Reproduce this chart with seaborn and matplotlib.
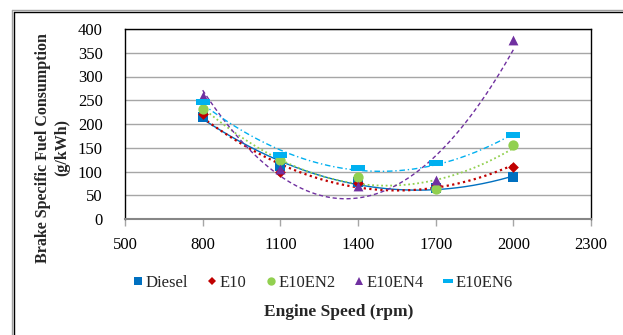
import numpy as np
import pandas as pd
import seaborn as sns
import matplotlib
matplotlib.use("Agg")
import matplotlib.pyplot as plt
from matplotlib.path import Path
from matplotlib.lines import Line2D

speeds = [800, 1100, 1400, 1700, 2000]
diesel = [215, 111, 78, 65, 88]
e10 = [220, 99, 75, 71, 110]
e10en2 = [232, 124, 89, 63, 156]
e10en4 = [259, 106, 70, 83, 377]
e10en6 = [246, 135, 108, 117, 177]
series_names = ["Diesel", "E10", "E10EN2", "E10EN4", "E10EN6"]
x_ticks = [500, 800, 1100, 1400, 1700, 2000, 2300]
y_ticks = [0, 50, 100, 150, 200, 250, 300, 350, 400]

values = {"Diesel": diesel, "E10": e10, "E10EN2": e10en2,
          "E10EN4": e10en4, "E10EN6": e10en6}
df = pd.DataFrame([(s, n, v) for n in series_names
                   for s, v in zip(speeds, values[n])],
                  columns=["speed", "series", "bsfc"])

sns.set_theme(style="white")
plt.rcParams["font.family"] = ["Liberation Serif", "DejaVu Serif"]

colors = {"Diesel": "#0070C0", "E10": "#C00000", "E10EN2": "#92D050",
          "E10EN4": "#7030A0", "E10EN6": "#00B0F0"}
rect = Path([(-1, -0.38), (1, -0.38), (1, 0.38), (-1, 0.38), (-1, -0.38)],
            [Path.MOVETO, Path.LINETO, Path.LINETO, Path.LINETO, Path.CLOSEPOLY])
markers = {"Diesel": "s", "E10": "D", "E10EN2": "o", "E10EN4": "^", "E10EN6": rect}
msizes = {"Diesel": 45, "E10": 30, "E10EN2": 55, "E10EN4": 50, "E10EN6": 110}
styles = {"Diesel": "-", "E10": (0, (1, 1.5)), "E10EN2": (0, (1, 1.5)),
          "E10EN4": (0, (3, 2)), "E10EN6": (0, (4, 2, 1, 2))}
lws = {"Diesel": 1.0, "E10": 1.6, "E10EN2": 1.3, "E10EN4": 1.0, "E10EN6": 1.0}

fig = plt.figure(figsize=(6.23, 3.35), dpi=100)
W, H = 623, 335
ax = fig.add_axes([125 / W, 1 - 219 / H, (591 - 125) / W, (219 - 29) / H])

for n in series_names:
    sub = df[df.series == n]
    sns.scatterplot(data=sub, x="speed", y="bsfc", marker=markers[n],
                    color=colors[n], s=msizes[n], linewidth=0, ax=ax,
                    zorder=4, legend=False)
    coef = np.polyfit(sub.speed, sub.bsfc, 2)
    xs = np.linspace(min(speeds), max(speeds), 200)
    sns.lineplot(x=xs, y=np.polyval(coef, xs), color=colors[n],
                 linestyle=styles[n], linewidth=lws[n], ax=ax, zorder=3)

ax.set_xlim(500, 2300)
ax.set_ylim(0, 400)
ax.set_xticks(x_ticks)
ax.set_yticks(y_ticks)
ax.set_xticklabels([str(t) for t in x_ticks], fontsize=12)
ax.set_yticklabels([str(t) for t in y_ticks], fontsize=12)
ax.yaxis.grid(True, color="#A6A6A6", linewidth=1.0)
ax.set_axisbelow(True)
ax.set_xlabel("")
ax.set_ylabel("")
for side in ["top", "right", "left"]:
    ax.spines[side].set_color("black")
    ax.spines[side].set_linewidth(1.0)
ax.spines["bottom"].set_color("#868686")
ax.spines["bottom"].set_linewidth(1.5)
ax.tick_params(axis="x", which="both", bottom=True, length=5, width=1,
               color="#A6A6A6", pad=8, labelcolor="black")
ax.tick_params(axis="y", left=False, pad=10, labelcolor="black")

handles = [Line2D([], [], linestyle="none", marker=markers[n],
                  color=colors[n], markersize=6 if n != "E10EN6" else 7,
                  markeredgewidth=0) for n in series_names]
for h, n in zip(handles, series_names):
    if n == "E10": h.set_markersize(4.5)
fig.legend(handles, series_names, loc="center", ncol=5, frameon=False,
           bbox_to_anchor=(323 / W, 1 - 283 / H), fontsize=12,
           handlelength=0.6, handletextpad=0.15, columnspacing=1.15)

fig.text(339 / W, 1 - 312 / H, "Engine Speed (rpm)", ha="center",
         va="center", fontsize=12.5, fontweight="bold")
fig.text(53 / W, 1 - 148 / H, "Brake Specific Fuel Consumption\n(g/kWh)",
         ha="center", va="center", rotation=90, fontsize=11.5,
         fontweight="bold", linespacing=1.25)

fig.add_artist(Line2D([12 / W, 12 / W], [0, 1 - 10 / H], color="#A0A0A0",
                      linewidth=1.0, transform=fig.transFigure))
fig.add_artist(Line2D([12 / W, 1], [1 - 10 / H, 1 - 10 / H], color="#A0A0A0",
                      linewidth=1.0, transform=fig.transFigure))
fig.add_artist(Line2D([14 / W, 14 / W], [0, 1 - 12 / H], color="black",
                      linewidth=1.0, transform=fig.transFigure))
fig.add_artist(Line2D([14 / W, 1], [1 - 12 / H, 1 - 12 / H], color="black",
                      linewidth=1.0, transform=fig.transFigure))

fig.savefig("out.png", dpi=100, facecolor="white")
